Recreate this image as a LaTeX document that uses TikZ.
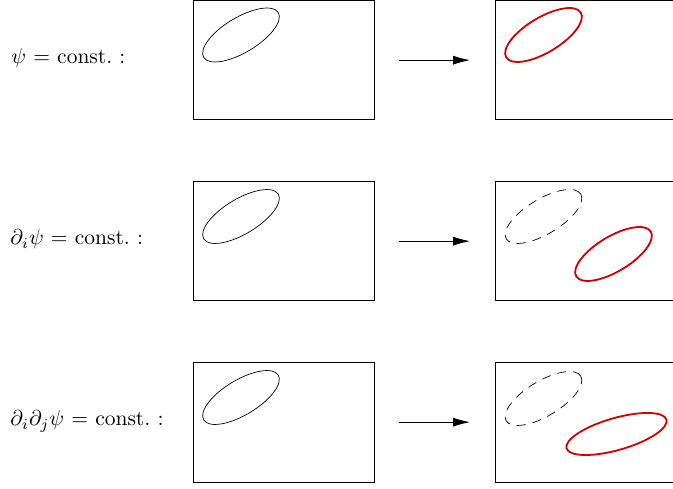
\documentclass[tikz,border=0pt]{standalone}
\usetikzlibrary{arrows.meta}
\newcommand{\eqsp}{\mkern1mu}
\begin{document}
\begin{tikzpicture}[x=1pt,y=-1pt,
  frame/.style={draw=black,line width=0.8pt,minimum width=181pt,minimum height=119.5pt,inner sep=0pt,anchor=north west},
  lbl/.style={anchor=base west,inner sep=0pt},
  map/.style={-{Latex[length=17pt,width=9pt]},line width=0.8pt,shorten <=24pt,shorten >=25pt},
  orig/.style={draw=black,line width=0.7pt},
  ghost/.style={draw=black,line width=0.7pt,dash pattern=on 9pt off 7pt},
  moved/.style={draw={rgb,255:red,204;green,0;blue,0},line width=1.8pt},
  lvl/.style={x radius=43.5pt,y radius=17.5pt,rotate=31},
  bigtext/.style={scale=2.15,transform shape}]
\useasboundingbox (0,0) rectangle (673,489);
\clip (0,0) rectangle (673,489);

% rows: level sets before (left) and after (right) the transformation
\node[frame] (L1) at (193,0) {};
\node[frame] (R1) at (495,0) {};
\node[frame] (L2) at (193,181) {};
\node[frame] (R2) at (495,181) {};
\node[frame] (L3) at (193,362) {};
\node[frame] (R3) at (495,362) {};

\begin{scope}[shift={(11,64)},bigtext]
  \node[lbl] (t1) at (0,0) {$\psi\eqsp=\eqsp\mathrm{const.}\eqsp:$};
\end{scope}
\begin{scope}[shift={(10,245)},bigtext]
  \node[lbl] (t2) at (0,0) {$\partial_i\psi\eqsp=\eqsp\mathrm{const.}\eqsp:$};
\end{scope}
\begin{scope}[shift={(10,426)},bigtext]
  \node[lbl] (t3) at (0,0) {$\partial_i\partial_j\psi\eqsp=\eqsp\mathrm{const.}\eqsp:$};
\end{scope}

\draw[map] (L1.east) -- (R1.west);
\draw[map] (L2.east) -- (R2.west);
\draw[map] (L3.east) -- (R3.west);

% row 1
\draw[orig] (241,35) ellipse [lvl];
\draw[moved] (543.5,35) ellipse [lvl];
% row 2
\draw[orig] (241,216.5) ellipse [lvl];
\draw[ghost] (543.5,216.5) ellipse [lvl];
\draw[moved] (613.5,254) ellipse [lvl];
% row 3
\draw[orig] (241,397.5) ellipse [lvl];
\draw[ghost] (543.5,398.5) ellipse [lvl];
\draw[moved] (616.5,434) ellipse [x radius=52pt,y radius=16pt,rotate=16];
\end{tikzpicture}
\end{document}
